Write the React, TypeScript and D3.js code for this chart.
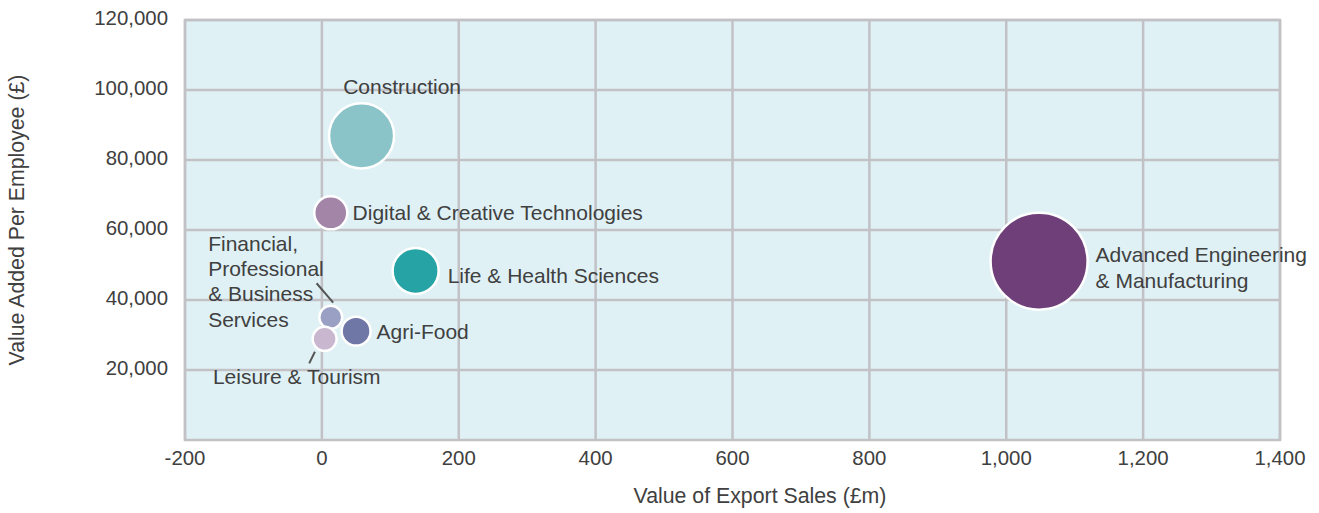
import * as d3 from 'd3'

// sector data
const sectors = [
  'Financial, Professional & Business Services',
  'Advanced Engineering & Manufacturing',
  'Construction',
  'Life & Health Sciences',
  'Digital & Creative Technologies',
  'Agri-Food',
  'Leisure & Tourism',
]
const exportSales = [13, 1048, 58, 137, 13, 50, 4]
const valueAdded = [35100, 51100, 86900, 48300, 64900, 31100, 28900]
const bubbleSize = [5.6, 100, 45, 22.5, 11.6, 8.9, 6.1]
const colors = ['#9aa0c3', '#6e3f78', '#8bc4c8', '#26a3a5', '#a385a8', '#6f77a6', '#c9b7d0']
const labelLines = [
  ['Financial,', 'Professional', '& Business', 'Services'],
  ['Advanced Engineering', '& Manufacturing'],
  ['Construction'],
  ['Life & Health Sciences'],
  ['Digital & Creative Technologies'],
  ['Agri-Food'],
  ['Leisure & Tourism'],
]

const xTicks = [-200, 0, 200, 400, 600, 800, 1000, 1200, 1400]
const yTicks = [20000, 40000, 60000, 80000, 100000, 120000]

// label placement relative to bubble centre: dx, dy (first baseline), line height, optional leader
const labelLayout = [
  { dx: -122.6, dy: -66.5, lh: 25.3, leader: [-14.2, -33.9, 2.4, -14.5] },
  { dx: 56.5, dy: 0.5, lh: 26.5 },
  { dx: -18.4, dy: -41.5, lh: 25 },
  { dx: 32, dy: 12, lh: 25 },
  { dx: 21.8, dy: 7.2, lh: 25 },
  { dx: 20.5, dy: 7.9, lh: 25 },
  { dx: -111.7, dy: 45.2, lh: 25, leader: [-9.7, 12.9, -15.4, 24.5] },
]

const width = 1319
const height = 513
const margin = { top: 20, right: 39, bottom: 73, left: 185 }
const font = "'Liberation Sans', Arial, sans-serif"
const textColor = '#404040'
const gridColor = '#c1c1c6'

export default function App() {
  const x = d3
    .scaleLinear()
    .domain([-200, 1400])
    .range([margin.left, width - margin.right])
  const y = d3
    .scaleLinear()
    .domain([0, 120000])
    .range([height - margin.bottom, margin.top])
  const r = d3
    .scaleSqrt()
    .domain([0, d3.max(bubbleSize) || 1])
    .range([0, 48.5])

  // plain hyphen for negatives, as in the original
  const fmt = (v: number) => d3.format(',')(v).replace('\u2212', '-')
  const plotLeft = margin.left
  const plotRight = width - margin.right
  const plotTop = margin.top
  const plotBottom = height - margin.bottom

  const points = sectors.map((name, i) => ({
    name,
    cx: x(exportSales[i]),
    cy: y(valueAdded[i]),
    r: r(bubbleSize[i]),
    color: colors[i],
    lines: labelLines[i],
    layout: labelLayout[i],
  }))

  return (
    <svg
      width={width}
      height={height}
      style={{ position: 'absolute', left: 0, top: 0, background: '#fff' }}
      fontFamily={font}
    >
      {/* plot background */}
      <rect
        x={plotLeft}
        y={plotTop}
        width={plotRight - plotLeft}
        height={plotBottom - plotTop}
        fill="#dff1f5"
      />

      {/* grid */}
      {xTicks.map(t => (
        <line key={'gx' + t} x1={x(t)} x2={x(t)} y1={plotTop} y2={plotBottom} stroke={gridColor} strokeWidth={2.5} />
      ))}
      {yTicks.map(t => (
        <line key={'gy' + t} x1={plotLeft} x2={plotRight} y1={y(t)} y2={y(t)} stroke={gridColor} strokeWidth={2.5} />
      ))}
      <rect
        x={plotLeft}
        y={plotTop}
        width={plotRight - plotLeft}
        height={plotBottom - plotTop}
        fill="none"
        stroke={gridColor}
        strokeWidth={2.5}
      />

      {/* tick labels */}
      {xTicks.map(t => (
        <text key={'tx' + t} x={x(t)} y={465} textAnchor="middle" fontSize={20.4} fill={textColor}>
          {fmt(t)}
        </text>
      ))}
      {yTicks.map(t => (
        <text key={'ty' + t} x={168} y={y(t) + 5} textAnchor="end" fontSize={20.4} fill={textColor}>
          {fmt(t)}
        </text>
      ))}

      {/* axis titles */}
      <text x={760} y={503} textAnchor="middle" fontSize={21.3} fill={textColor}>
        Value of Export Sales (£m)
      </text>
      <text
        transform={`translate(24,220) rotate(-90)`}
        textAnchor="middle"
        fontSize={21.3}
        fill={textColor}
      >
        Value Added Per Employee (£)
      </text>

      {/* bubbles */}
      {points.map(p => (
        <circle key={p.name} cx={p.cx} cy={p.cy} r={p.r} fill={p.color} stroke="#fff" strokeWidth={2.5} />
      ))}

      {/* leader lines */}
      {points
        .filter(p => p.layout.leader)
        .map(p => {
          const [x1, y1, x2, y2] = p.layout.leader as number[]
          return (
            <line
              key={'ld' + p.name}
              x1={p.cx + x1}
              y1={p.cy + y1}
              x2={p.cx + x2}
              y2={p.cy + y2}
              stroke="#555"
              strokeWidth={2}
            />
          )
        })}

      {/* labels */}
      {points.map(p => (
        <text key={'lb' + p.name} fontSize={21} fill={textColor}>
          {p.lines.map((line, j) => (
            <tspan key={j} x={p.cx + p.layout.dx} y={p.cy + p.layout.dy + j * p.layout.lh}>
              {line}
            </tspan>
          ))}
        </text>
      ))}
    </svg>
  )
}
